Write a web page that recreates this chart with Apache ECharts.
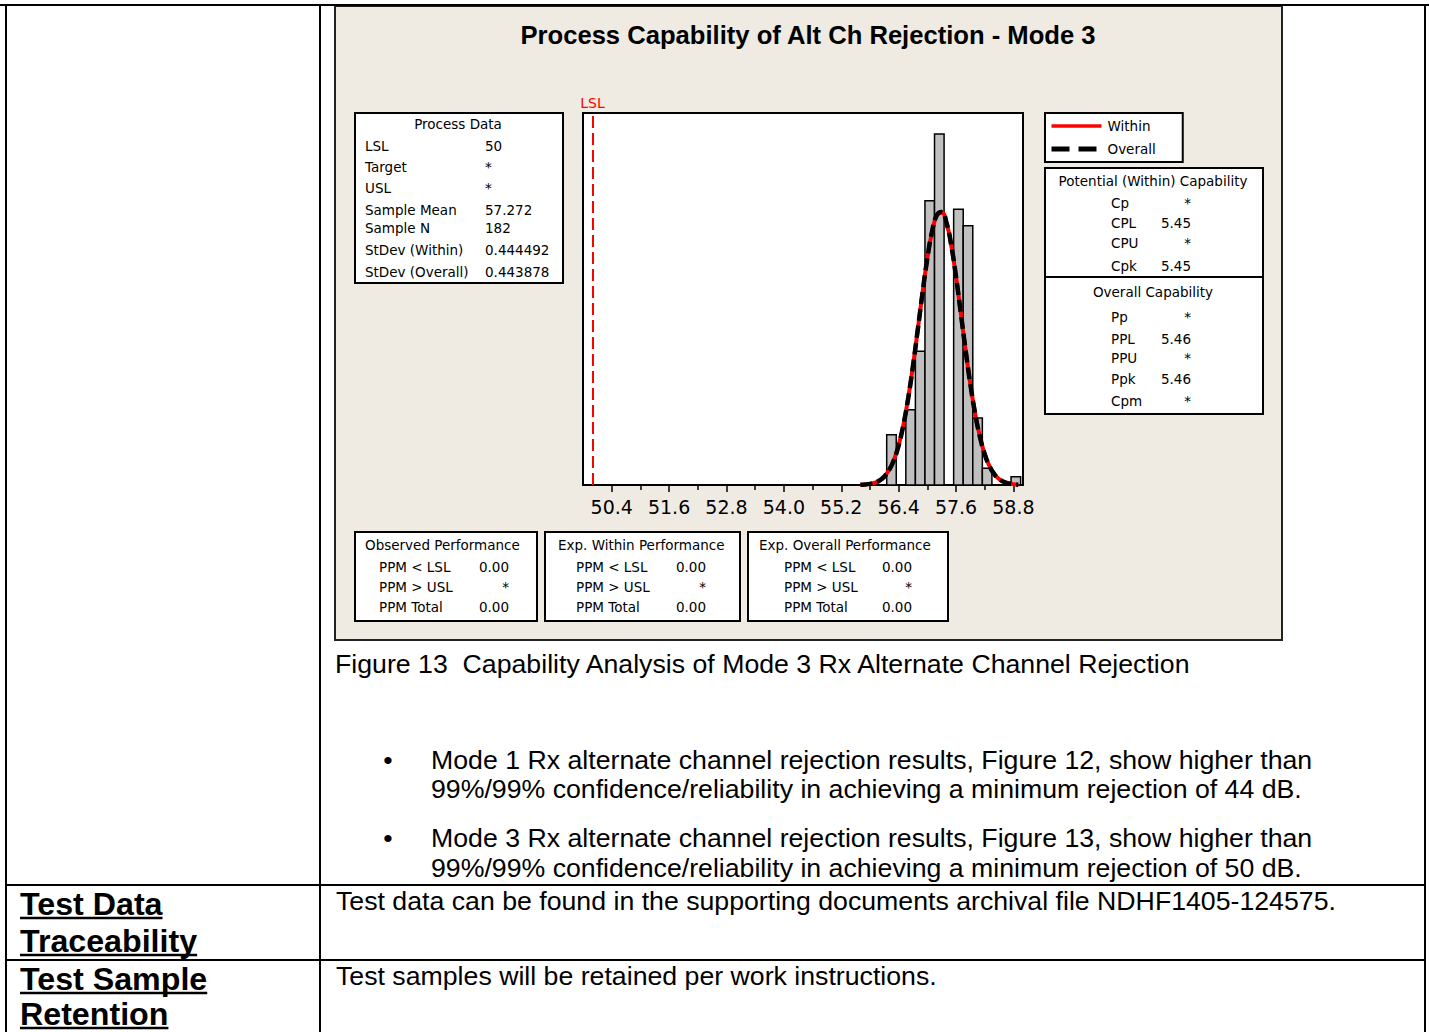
<!DOCTYPE html>
<html>
<head>
<meta charset="utf-8">
<script src="https://cdn.jsdelivr.net/npm/echarts@6/dist/echarts.min.js"></script>
<style>
html,body{margin:0;padding:0;background:#fff;}
#main{width:1429px;height:1032px;}
</style>
</head>
<body>
<div id="main"></div>
<script>
// ---------------- data ----------------
const chartTitle = 'Process Capability of Alt Ch Rejection - Mode 3';
const lslValue = 50;
const binWidth = 0.2;
const binStarts = [56.15, 56.35, 56.55, 56.75, 56.95, 57.15, 57.35, 57.55, 57.75, 57.95, 58.15, 58.35, 58.55, 58.75];
const binCounts = [6, 0, 9, 16, 34, 42, 0, 33, 31, 8, 2, 0, 0, 1];
const curveX = [55.6, 55.7, 55.8, 55.9, 56.0, 56.1, 56.2, 56.3, 56.4, 56.5, 56.6, 56.7, 56.8, 56.9, 57.0, 57.1, 57.2,
  57.3, 57.4, 57.5, 57.6, 57.7, 57.8, 57.9, 58.0, 58.1, 58.2, 58.3, 58.4, 58.5, 58.6, 58.7, 58.8, 58.9];
const withinY = [0.028, 0.063, 0.136, 0.279, 0.544, 1.010, 1.783, 2.991, 4.769, 7.230, 10.419, 14.274, 18.591, 23.018, 27.092, 30.313, 32.244,
  32.605, 31.343, 28.643, 24.883, 20.550, 16.134, 12.042, 8.544, 5.763, 3.695, 2.253, 1.305, 0.719, 0.377, 0.188, 0.089, 0.040];
const overallY = [0.027, 0.062, 0.134, 0.276, 0.539, 1.002, 1.771, 2.975, 4.750, 7.210, 10.400, 14.261, 18.588, 23.027, 27.115, 30.348, 32.287,
  32.650, 31.383, 28.672, 24.899, 20.552, 16.125, 12.025, 8.524, 5.743, 3.678, 2.239, 1.296, 0.713, 0.373, 0.185, 0.087, 0.039];
const tickValues = [50.4, 51.6, 52.8, 54.0, 55.2, 56.4, 57.6, 58.8];
const minorTickValues = [51.0, 52.2, 53.4, 54.6, 55.8, 57.0, 58.2];
const tickLabels = ['50.4', '51.6', '52.8', '54.0', '55.2', '56.4', '57.6', '58.8'];

const processTitle = 'Process Data';
const processLabels = ['LSL', 'Target', 'USL', 'Sample Mean', 'Sample N', 'StDev (Within)', 'StDev (Overall)'];
const processValues = ['50', '*', '*', '57.272', '182', '0.444492', '0.443878'];

const withinTitle = 'Potential (Within) Capability';
const withinLabels = ['Cp', 'CPL', 'CPU', 'Cpk'];
const withinValues = ['*', '5.45', '*', '5.45'];
const overallTitle = 'Overall Capability';
const overallLabels = ['Pp', 'PPL', 'PPU', 'Ppk', 'Cpm'];
const overallValues = ['*', '5.46', '*', '5.46', '*'];

const perfLabels = ['PPM < LSL', 'PPM > USL', 'PPM Total'];
const perfTitles = ['Observed Performance', 'Exp. Within Performance', 'Exp. Overall Performance'];
const observedPerf = ['0.00', '*', '0.00'];
const expWithinPerf = ['0.00', '*', '0.00'];
const expOverallPerf = ['0.00', '*', '0.00'];

const captionText = 'Figure 13  Capability Analysis of Mode 3 Rx Alternate Channel Rejection';
const bullet1 = ['Mode 1 Rx alternate channel rejection results, Figure 12, show higher than',
  '99%/99% confidence/reliability in achieving a minimum rejection of 44 dB.'];
const bullet2 = ['Mode 3 Rx alternate channel rejection results, Figure 13, show higher than',
  '99%/99% confidence/reliability in achieving a minimum rejection of 50 dB.'];
const row2Head = ['Test Data', 'Traceability'];
const row2Text = 'Test data can be found in the supporting documents archival file NDHF1405-124575.';
const row3Head = ['Test Sample', 'Retention'];
const row3Text = 'Test samples will be retained per work instructions.';

// ---------------- helpers ----------------
const MT = '"DejaVu Sans", Verdana, sans-serif';
const DOC = '"Liberation Sans", Arial, sans-serif';
const measureCtx = document.createElement('canvas').getContext('2d');
function textWidth(t, font) { measureCtx.font = font; return measureCtx.measureText(t).width; }

function txt(t, x, y, font, align, color) {
  return {
    type: 'text', x: x, y: y, silent: true,
    style: { text: t, font: font, fill: color || '#000', textAlign: align || 'left', textVerticalAlign: 'middle', verticalAlign: 'middle' }
  };
}
function rect(x, y, w, h, fill, stroke, lw, z) {
  const r = { type: 'rect', silent: true, shape: { x: x, y: y, width: w, height: h },
    style: { fill: fill, stroke: stroke, lineWidth: lw } };
  if (z !== undefined) r.z = z;
  return r;
}
function line(x1, y1, x2, y2, lw, color) {
  return { type: 'line', silent: true, shape: { x1: x1, y1: y1, x2: x2, y2: y2 }, style: { stroke: color || '#000', lineWidth: lw } };
}

const els = [];
// chart background (Minitab graph window)
els.push(rect(335, 6, 947, 634, '#EFEBE2', '#222', 2, -10));

// document table lines
els.push(line(0, 5, 1429, 5, 2));
els.push(line(6, 5, 6, 1032, 2));
els.push(line(320, 5, 320, 1032, 2));
els.push(line(1425, 5, 1425, 1032, 2));
els.push(line(6, 885, 1425, 885, 2));
els.push(line(6, 960, 1425, 960, 2));

// title
els.push(txt(chartTitle, 808, 35, 'bold 25.6px ' + DOC, 'center'));

// Process data box
const pf = '13.5px ' + MT;
els.push(rect(355, 113, 208, 170, '#fff', '#000', 2));
els.push(txt(processTitle, 458, 124, pf, 'center'));
const pRows = [146, 167, 188, 210, 228, 250, 272];
processLabels.forEach((l, i) => {
  els.push(txt(l, 365, pRows[i], pf));
  els.push(txt(processValues[i], 485, pRows[i], pf));
});

// capability box
els.push(rect(1045, 168, 218, 246, '#fff', '#000', 2));
els.push(line(1045, 277, 1263, 277, 2));
els.push(txt(withinTitle, 1153, 181, pf, 'center'));
const wRows = [203, 223, 243, 266];
withinLabels.forEach((l, i) => {
  els.push(txt(l, 1111, wRows[i], pf));
  els.push(txt(withinValues[i], 1191, wRows[i], pf, 'right'));
});
els.push(txt(overallTitle, 1153, 292, pf, 'center'));
const oRows = [317, 339, 358, 379, 401];
overallLabels.forEach((l, i) => {
  els.push(txt(l, 1111, oRows[i], pf));
  els.push(txt(overallValues[i], 1191, oRows[i], pf, 'right'));
});

// performance boxes
const perfBoxes = [
  { x: 355, w: 182, tx: 365, lx: 379, vx: 509, vals: observedPerf },
  { x: 545, w: 195, tx: 558, lx: 576, vx: 706, vals: expWithinPerf },
  { x: 748, w: 200, tx: 759, lx: 784, vx: 912, vals: expOverallPerf }
];
const perfRows = [567, 587, 607];
perfBoxes.forEach((b, k) => {
  els.push(rect(b.x, 532, b.w, 89, '#fff', '#000', 2));
  els.push(txt(perfTitles[k], b.tx, 545, pf));
  perfLabels.forEach((l, i) => {
    els.push(txt(l, b.lx, perfRows[i], pf));
    els.push(txt(b.vals[i], b.vx, perfRows[i], pf, 'right'));
  });
});

// document text
const bodyFont = '26.7px ' + DOC;
els.push(txt(captionText, 335, 664, bodyFont));
els.push(txt('\u2022', 388, 760, bodyFont, 'center'));
els.push(txt(bullet1[0], 431, 760, bodyFont));
els.push(txt(bullet1[1], 431, 789, bodyFont));
els.push(txt('\u2022', 388, 838, bodyFont, 'center'));
els.push(txt(bullet2[0], 431, 838, bodyFont));
els.push(txt(bullet2[1], 431, 868, bodyFont));
els.push(txt(row2Text, 336, 901, bodyFont));
els.push(txt(row3Text, 336, 976, bodyFont));
const headFont = 'bold 32.2px ' + DOC;
[[row2Head[0], 904], [row2Head[1], 941], [row3Head[0], 979], [row3Head[1], 1014]].forEach(h => {
  els.push(txt(h[0], 20, h[1], headFont));
  const w = textWidth(h[0], headFont);
  els.push(line(20, h[1] + 14, 20 + w, h[1] + 14, 2.5));
});

// ---------------- chart ----------------
const chart = echarts.init(document.getElementById('main'), null, { renderer: 'svg' });
const option = {
  animation: false,
  backgroundColor: 'transparent',
  graphic: { elements: els },
  grid: { left: 583, top: 113, width: 440, height: 372, show: true, backgroundColor: '#fff', borderColor: '#000', borderWidth: 2, containLabel: false, outerBoundsMode: 'none' },
  legend: {
    left: 1045, top: 113, orient: 'vertical', backgroundColor: '#fff', borderColor: '#000', borderWidth: 2,
    padding: [6, 27, 6, 4], itemWidth: 50, itemHeight: 14, itemGap: 9,
    itemStyle: { opacity: 0 },
    textStyle: { fontFamily: MT, fontSize: 13.5, color: '#000', padding: [0, 0, 0, 1] },
    data: [
      { name: 'Within', itemStyle: { opacity: 0 }, lineStyle: { color: '#FF0000', width: 3.5, type: 'solid' } },
      { name: 'Overall', itemStyle: { opacity: 0 }, lineStyle: { color: '#000', width: 5, type: [18, 9] } }
    ]
  },
  xAxis: [{
    type: 'value', min: 49.8, max: 59.0, interval: 0.6, position: 'bottom',
    axisLine: { show: true, lineStyle: { color: '#000', width: 2 } },
    axisTick: { show: true, length: 7, lineStyle: { color: '#000', width: 1.5 }, customValues: tickValues },
    axisLabel: {
      customValues: tickValues, color: '#000', fontFamily: MT, fontSize: 19, margin: 12,
      formatter: v => tickLabels[tickValues.findIndex(t => Math.abs(t - v) < 1e-6)] || ''
    },
    splitLine: { show: false }
  }, {
    type: 'value', min: 49.8, max: 59.0, interval: 0.6, position: 'bottom', gridIndex: 0,
    axisLine: { show: false },
    axisTick: { show: true, length: 5, lineStyle: { color: '#000', width: 1.5 }, customValues: minorTickValues },
    axisLabel: { show: false },
    splitLine: { show: false }
  }],
  yAxis: { type: 'value', min: 0, max: 44.5, show: false, splitLine: { show: false } },
  series: [{
    name: 'Histogram', type: 'custom', xAxisIndex: 0,
    data: binStarts.map((s, i) => [s, s + binWidth, binCounts[i]]),
    encode: { x: [0, 1], y: 2 },
    renderItem: function (params, api) {
      const c = api.value(2);
      if (!c) return null;
      const p0 = api.coord([api.value(0), 0]);
      const p1 = api.coord([api.value(1), c]);
      return { type: 'rect', shape: { x: p0[0], y: p1[1], width: p1[0] - p0[0], height: p0[1] - p1[1] },
        style: { fill: '#C0C0C0', stroke: '#000', lineWidth: 1.5 } };
    },
    markLine: {
      silent: true, symbol: ['none', 'none'], animation: false,
      lineStyle: { color: '#FF0000', type: [12, 5], width: 2 },
      label: { show: true, position: 'end', formatter: 'LSL', color: '#FF0000', fontFamily: MT, fontSize: 14, distance: 3 },
      data: [{ xAxis: lslValue }]
    }
  }, {
    name: 'Within', type: 'line', xAxisIndex: 0, smooth: true, symbol: 'none',
    lineStyle: { color: '#FF0000', width: 4 }, itemStyle: { color: '#FF0000' },
    data: curveX.map((x, i) => [x, withinY[i]])
  }, {
    name: 'Overall', type: 'line', xAxisIndex: 0, smooth: true, symbol: 'none',
    lineStyle: { color: '#000', width: 4.5, type: [12, 5] }, itemStyle: { color: '#000' },
    data: curveX.map((x, i) => [x, overallY[i]])
  }]
};
chart.setOption(option);
</script>
</body>
</html>
